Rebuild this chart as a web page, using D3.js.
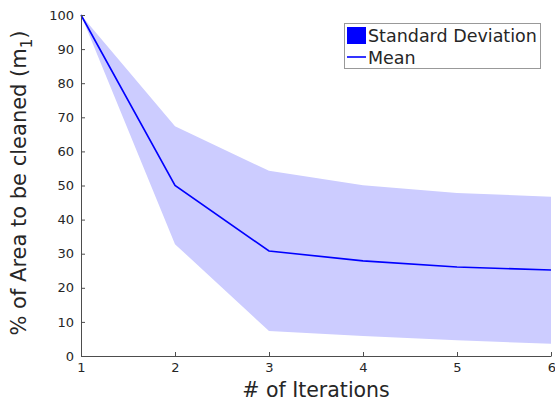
<!DOCTYPE html>
<html>
  <head>
    <meta charset="utf-8">
    <script src="https://d3js.org/d3.v7.min.js"></script>
    <style>
      body { margin: 0; background: white; }
      text { font-family: "DejaVu Sans", sans-serif; fill: #262626; }
    </style>
  </head>
  <body>
    <svg id="chart" width="555" height="403"></svg>
    <script>
      // data
      iterations = [1, 2, 3, 4, 5, 6];
      meanValues = [100, 50, 30.8, 27.9, 26.1, 25.2];
      upperValues = [100, 67.4, 54.3, 50.1, 47.8, 46.7];
      lowerValues = [100, 32.8, 7.3, 5.9, 4.6, 3.6];
      xTicks = [1, 2, 3, 4, 5, 6];
      yTicks = [0, 10, 20, 30, 40, 50, 60, 70, 80, 90, 100];

      svg = d3.select("#chart");
      left = 81; right = 551; top_ = 15; bottom = 356;
      x = d3.scaleLinear().domain([1, 6]).range([left, right]);
      y = d3.scaleLinear().domain([0, 100]).range([bottom, top_]);

      rows = iterations.map(function(d, i) {
        return { it: d, mean: meanValues[i], hi: upperValues[i], lo: lowerValues[i] };
      });

      // std band
      area = d3.area()
        .x(function(d) { return x(d.it); })
        .y0(function(d) { return y(d.lo); })
        .y1(function(d) { return y(d.hi); });
      svg.append("path")
        .datum(rows)
        .attr("d", area)
        .attr("fill", "#ccccff");

      // mean line
      line = d3.line()
        .x(function(d) { return x(d.it); })
        .y(function(d) { return y(d.mean); });
      svg.append("path")
        .datum(rows)
        .attr("d", line)
        .attr("fill", "none")
        .attr("stroke", "#0000ff")
        .attr("stroke-width", 1.6);

      // axes (ticks inward like matlab)
      xAxis = d3.axisBottom(x).tickValues(xTicks).tickFormat(d3.format("d"))
        .tickSizeInner(-4).tickSizeOuter(0).tickPadding(7);
      yAxis = d3.axisLeft(y).tickValues(yTicks).tickFormat(d3.format("d"))
        .tickSizeInner(-4).tickSizeOuter(0).tickPadding(7);
      gx = svg.append("g").attr("transform", "translate(0," + bottom + ")").call(xAxis);
      gy = svg.append("g").attr("transform", "translate(" + left + ",0)").call(yAxis);
      svg.selectAll(".domain, .tick line").attr("stroke", "#4d4d4d");
      svg.selectAll(".tick text").style("font-family", "DejaVu Sans").style("font-size", "13px").attr("fill", "#262626");
      gx.select(".tick:last-of-type text").attr("text-anchor", "end").attr("dx", "0.35em");

      // axis labels
      svg.append("text")
        .attr("x", (left + right) / 2)
        .attr("y", 397)
        .attr("text-anchor", "middle")
        .style("font-size", "20.5px")
        .text("# of Iterations");
      yl = svg.append("text")
        .attr("transform", "translate(26,183) rotate(-90)")
        .attr("text-anchor", "middle")
        .style("font-size", "21px");
      yl.append("tspan").text("% of Area to be cleaned (m");
      yl.append("tspan").attr("dy", 6).style("font-size", "15px").text("1");
      yl.append("tspan").attr("dy", -6).text(")");

      // legend
      lg = svg.append("g");
      lg.append("rect")
        .attr("x", 344.5).attr("y", 23.5).attr("width", 196).attr("height", 45)
        .attr("fill", "white").attr("stroke", "#999").attr("stroke-width", 1);
      lg.append("rect")
        .attr("x", 347).attr("y", 27).attr("width", 19).attr("height", 17)
        .attr("fill", "#0000ff");
      lg.append("line")
        .attr("x1", 347).attr("x2", 366).attr("y1", 57).attr("y2", 57)
        .attr("stroke", "#0000ff").attr("stroke-width", 1.6);
      lg.append("text").attr("x", 368).attr("y", 42).style("font-size", "17.5px").attr("fill", "#111").text("Standard Deviation");
      lg.append("text").attr("x", 368).attr("y", 64).style("font-size", "17.5px").attr("fill", "#111").text("Mean");
    </script>
  </body>
</html>
